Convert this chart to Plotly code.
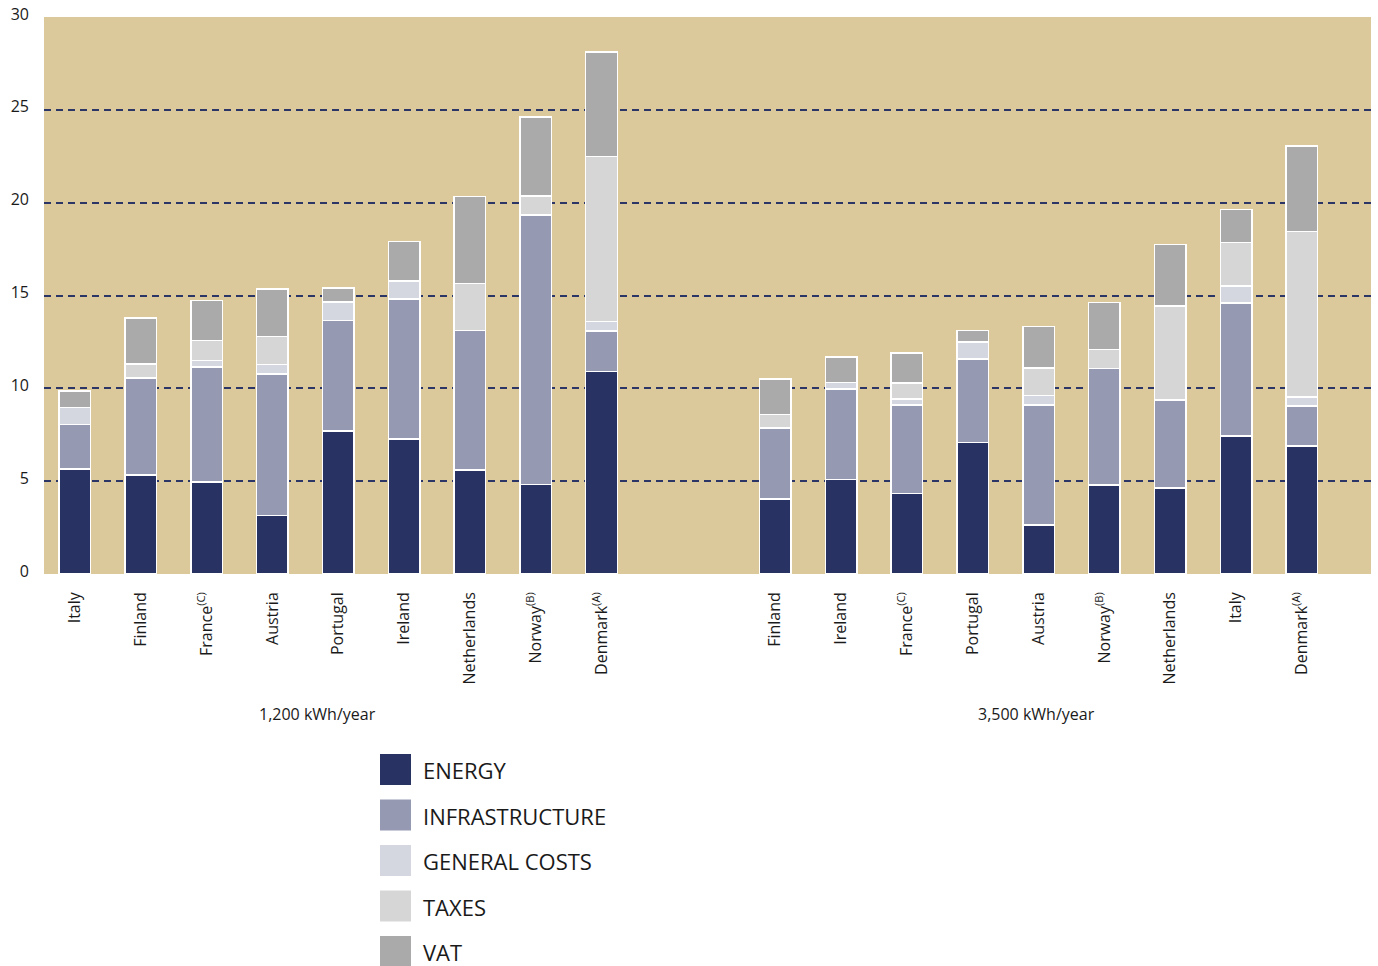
import plotly.graph_objects as go

# Countries per consumption band
countries_1200 = ["Italy", "Finland", "France<sup>(C)</sup>", "Austria", "Portugal",
                  "Ireland", "Netherlands", "Norway<sup>(B)</sup>", "Denmark<sup>(A)</sup>"]
countries_3500 = ["Finland", "Ireland", "France<sup>(C)</sup>", "Portugal", "Austria",
                  "Norway<sup>(B)</sup>", "Netherlands", "Italy", "Denmark<sup>(A)</sup>"]

# Price components, 1,200 kWh/year
energy_1200 = [5.66, 5.32, 4.95, 3.14, 7.71, 7.26, 5.59, 4.82, 10.91]
infra_1200 = [2.39, 5.23, 6.20, 7.63, 5.95, 7.56, 7.53, 14.52, 2.17]
general_1200 = [0.93, 0.00, 0.34, 0.52, 0.98, 0.97, 0.00, 0.00, 0.52]
taxes_1200 = [0.00, 0.76, 1.09, 1.49, 0.00, 0.00, 2.54, 1.01, 8.89]
vat_1200 = [0.87, 2.47, 2.15, 2.56, 0.77, 2.11, 4.68, 4.26, 5.63]

# Price components, 3,500 kWh/year
energy_3500 = [4.05, 5.09, 4.34, 7.08, 2.63, 4.80, 4.62, 7.44, 6.90]
infra_3500 = [3.82, 4.87, 4.75, 4.51, 6.47, 6.28, 4.75, 7.15, 2.15]
general_3500 = [0.00, 0.36, 0.34, 0.90, 0.51, 0.00, 0.00, 0.93, 0.48]
taxes_3500 = [0.73, 0.00, 0.87, 0.00, 1.48, 1.00, 5.06, 2.33, 8.93]
vat_3500 = [1.90, 1.36, 1.60, 0.63, 2.24, 2.53, 3.33, 1.77, 4.60]

series_names = ["ENERGY", "INFRASTRUCTURE", "GENERAL COSTS", "TAXES", "VAT"]
group_labels = ["1,200 kWh/year", "3,500 kWh/year"]
y_ticks = [0, 5, 10, 15, 20, 25, 30]

colors = ["#283363", "#959ab2", "#d4d7e0", "#d6d6d6", "#aaaaaa"]
BG = "#dbc89b"
FONT = "Open Sans, Noto Sans, sans-serif"

# numeric x positions: two groups separated by an empty gap
GROUP_GAP = 2.64
n = len(countries_1200)
x_pos = [i for i in range(n)] + [n - 1 + GROUP_GAP + i for i in range(len(countries_3500))]
tick_text = countries_1200 + countries_3500

values = [
    energy_1200 + energy_3500,
    infra_1200 + infra_3500,
    general_1200 + general_3500,
    taxes_1200 + taxes_3500,
    vat_1200 + vat_3500,
]

fig = go.Figure()
for name, vals, col in zip(series_names, values, colors):
    fig.add_trace(go.Bar(
        x=x_pos, y=vals, name=name, width=0.48,
        marker=dict(color=col, line=dict(color="white", width=1.5)),
        showlegend=False,
    ))

W, H = 1378, 966
ml, mr, mt, mb = 44, 7, 17, 392
pw, ph = W - ml - mr, H - mt - mb


def px_x(p):
    return (p - ml) / pw


def px_y(p):
    return (H - mb - p) / ph


annotations = []
for lbl, cx in zip(group_labels, [317, 1036]):
    annotations.append(dict(
        text=lbl, x=px_x(cx), y=px_y(714), xref="paper", yref="paper",
        showarrow=False, xanchor="center", yanchor="middle",
        font=dict(family=FONT, size=16, color="#1a1a1a"),
    ))

# legend swatches and labels
shapes = []
for k, (name, col) in enumerate(zip(series_names, colors)):
    top = 754 + k * 45.5
    shapes.append(dict(
        type="rect", xref="paper", yref="paper",
        x0=px_x(380), x1=px_x(411), y0=px_y(top), y1=px_y(top + 31),
        fillcolor=col, line=dict(width=0),
    ))
    annotations.append(dict(
        text=name, x=px_x(421), y=px_y(top + 16), xref="paper", yref="paper",
        showarrow=False, xanchor="left", yanchor="middle",
        font=dict(family=FONT, size=22, color="#1a1a1a"),
    ))

fig.update_layout(
    width=W, height=H,
    margin=dict(l=ml, r=mr, t=mt, b=mb),
    barmode="stack",
    plot_bgcolor=BG, paper_bgcolor="white",
    font=dict(family=FONT, color="#1a1a1a"),
    shapes=shapes, annotations=annotations,
    xaxis=dict(
        range=[-0.47, x_pos[-1] + 1.05],
        tickvals=x_pos, ticktext=tick_text, tickangle=-90,
        showgrid=False, zeroline=False, showline=False, ticks="",
        tickfont=dict(family=FONT, size=16, color="#1a1a1a"),
        ticklabelstandoff=14, automargin=False,
    ),
    yaxis=dict(
        range=[0, 30], tickvals=y_ticks,
        showgrid=True, gridcolor="#2b3566", gridwidth=1.5, griddash="7px,5px",
        zeroline=False, showline=False, ticks="",
        tickfont=dict(family=FONT, size=16, color="#1a1a1a"),
        ticklabelstandoff=14, ticklabelshift=-3, automargin=False,
    ),
)

fig.write_html("out.html")
